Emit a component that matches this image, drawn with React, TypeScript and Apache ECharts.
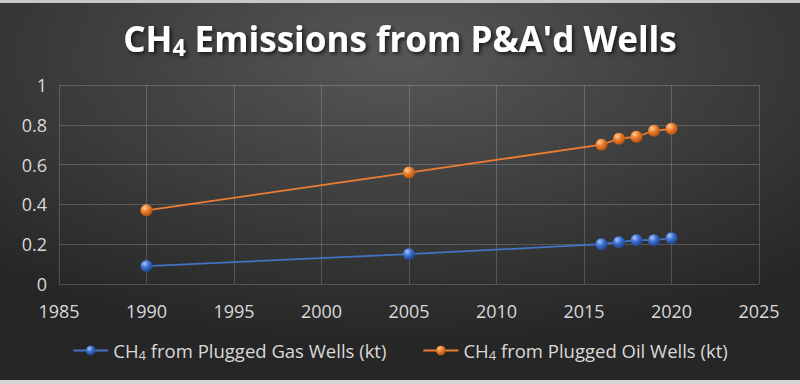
import React, { useEffect, useRef } from "react";
import * as echarts from "echarts";

const years = [1990, 2005, 2016, 2017, 2018, 2019, 2020];
const gasValues = [0.09, 0.15, 0.2, 0.21, 0.22, 0.22, 0.23];
const oilValues = [0.37, 0.56, 0.7, 0.73, 0.74, 0.77, 0.78];
const gasName = "CH4 from Plugged Gas Wells (kt)";
const oilName = "CH4 from Plugged Oil Wells (kt)";
const titleParts = ["CH", "4", " Emissions from P&A'd Wells"];

const FONT = "'Open Sans', 'Noto Sans', sans-serif";

function sphere(light: string, base: string, dark: string) {
  return new echarts.graphic.RadialGradient(0.35, 0.3, 0.75, [
    { offset: 0, color: light },
    { offset: 0.45, color: base },
    { offset: 1, color: dark },
  ]);
}

export default function App() {
  const ref = useRef<HTMLDivElement>(null);
  useEffect(() => {
    if (!ref.current) return;
    const chart = echarts.init(ref.current, undefined, { renderer: "svg" });
    const gasData = years.map((y, i) => [y, gasValues[i]]);
    const oilData = years.map((y, i) => [y, oilValues[i]]);
    const gridColor = "rgba(255,255,255,0.18)";
    const labelColor = "#d9d9d9";
    const shadow = {
      textShadowColor: "rgba(0,0,0,0.7)",
      textShadowBlur: 4,
      textShadowOffsetX: 2,
      textShadowOffsetY: 2,
    };
    chart.setOption({
      animation: false,
      backgroundColor: new echarts.graphic.RadialGradient(0.5, 0.15, 0.75, [
        { offset: 0, color: "#575757" },
        { offset: 1, color: "#262626" },
      ]),
      graphic: [
        { type: "rect", left: 0, top: 0, shape: { width: 800, height: 3 }, style: { fill: "#c8c8c8" } },
        { type: "rect", left: 0, top: 380, shape: { width: 800, height: 4 }, style: { fill: "#d4d4d4" } },
      ],
      title: {
        text: `{a|${titleParts[0]}}{s|${titleParts[1]}}{a|${titleParts[2]}}`,
        left: "center",
        top: 14,
        textStyle: {
          rich: {
            a: {
              fontFamily: FONT,
              fontWeight: "bold",
              fontSize: 35,
              color: "#ffffff",
              ...shadow,
            },
            s: {
              fontFamily: FONT,
              fontWeight: "bold",
              fontSize: 23,
              color: "#ffffff",
              padding: [16, 0, 0, 0],
              ...shadow,
            },
          },
        },
      },
      grid: { left: 59, right: 41, top: 85, bottom: 100, containLabel: false },
      legend: {
        bottom: 18,
        left: "center",
        itemWidth: 35,
        itemHeight: 12,
        itemGap: 36,
        data: [gasName, oilName],
        formatter: (name: string) => {
          const rest = name.slice(3);
          return `{a|CH}{s|4}{a|${rest}}`;
        },
        textStyle: {
          rich: {
            a: { fontFamily: FONT, fontSize: 18.5, color: labelColor },
            s: { fontFamily: FONT, fontSize: 13, color: labelColor, padding: [8, 0, 0, 0] },
          },
        },
      },
      xAxis: {
        type: "value",
        min: 1985,
        max: 2025,
        interval: 5,
        axisLine: { show: false },
        axisTick: { show: false },
        splitLine: { show: true, lineStyle: { color: gridColor, width: 1 } },
        axisLabel: {
          color: labelColor,
          fontFamily: FONT,
          fontSize: 18,
          margin: 18,
          formatter: (v: number) => String(v),
        },
      },
      yAxis: {
        type: "value",
        min: 0,
        max: 1,
        interval: 0.2,
        axisLine: { show: false },
        axisTick: { show: false },
        splitLine: { show: true, lineStyle: { color: gridColor, width: 1 } },
        axisLabel: { color: labelColor, fontFamily: FONT, fontSize: 18, margin: 12 },
      },
      series: [
        {
          name: gasName,
          type: "line",
          data: gasData,
          symbol: "circle",
          symbolSize: 12,
          lineStyle: { color: "#4472c4", width: 1.8 },
          itemStyle: { color: sphere("#a9c6ff", "#3b6fd0", "#1d3f86") },
        },
        {
          name: oilName,
          type: "line",
          data: oilData,
          symbol: "circle",
          symbolSize: 12,
          lineStyle: { color: "#ed7d31", width: 1.8 },
          itemStyle: { color: sphere("#ffcf99", "#ee7d2a", "#a84d12") },
        },
      ],
    });
    return () => chart.dispose();
  }, []);
  return (
    <div
      ref={ref}
      style={{ position: "absolute", left: 0, top: 0, width: 800, height: 384 }}
    />
  );
}
